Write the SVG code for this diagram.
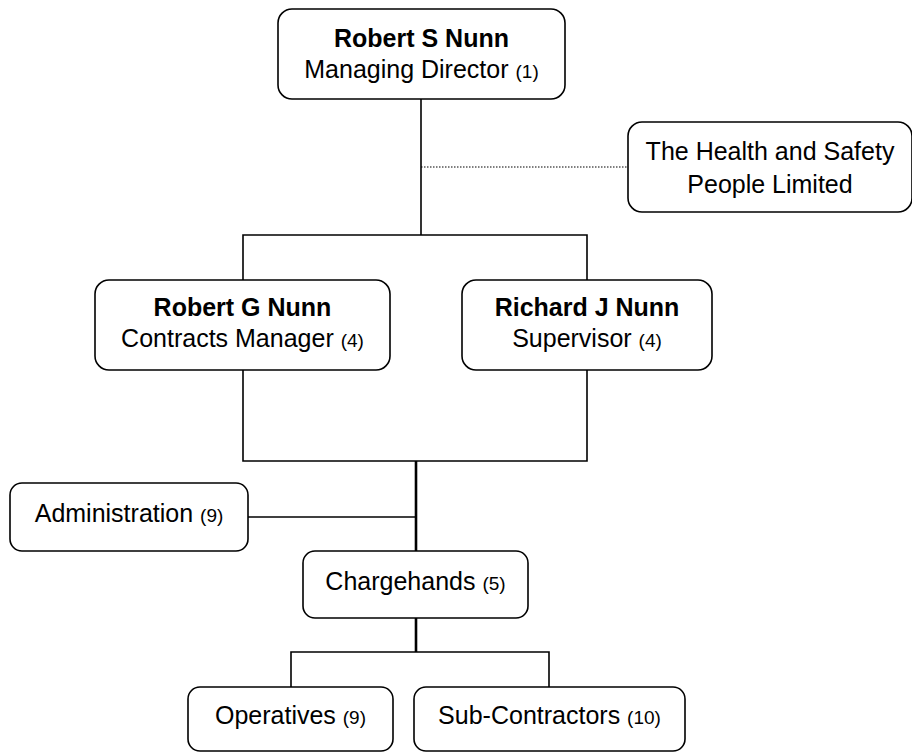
<svg xmlns="http://www.w3.org/2000/svg" width="912" height="753" viewBox="0 0 912 753">
<style>
.box{fill:#fff;stroke:#000;stroke-width:1.6}
.t{font-family:"Liberation Sans",Arial,sans-serif;font-size:25px;fill:#000;text-anchor:middle}
.b{font-weight:bold}
.s{font-size:19px}
.ln{fill:none;stroke:#000;stroke-width:1.6}
.thick{fill:none;stroke:#000;stroke-width:2.6}
.dot{fill:none;stroke:#000;stroke-width:1.2;stroke-dasharray:1.5 1.5}
</style>
<rect width="912" height="753" fill="#fff"/>
<g id="connectors">
<line class="ln" x1="421" y1="99" x2="421" y2="235"/>
<line class="dot" x1="421" y1="167" x2="628" y2="167"/>
<polyline class="ln" points="243,280 243,235 587,235 587,280"/>
<polyline class="ln" points="243,370 243,461 587,461 587,370"/>
<line class="thick" x1="416" y1="461" x2="416" y2="551"/>
<line class="ln" x1="248" y1="517" x2="416" y2="517"/>
<line class="thick" x1="416" y1="618" x2="416" y2="652"/>
<polyline class="ln" points="291,687 291,652 549,652 549,687"/>
</g>
<g id="managing-director">
<rect class="box" x="278" y="9" width="287" height="90" rx="14"/>
<text class="t b" x="421.5" y="47">Robert S Nunn</text>
<text class="t" x="421.5" y="78">Managing Director <tspan class="s">(1)</tspan></text>
</g>
<g id="health-safety">
<rect class="box" x="628" y="122" width="284" height="90" rx="14"/>
<text class="t" x="770" y="160">The Health and Safety</text>
<text class="t" x="770" y="193">People Limited</text>
</g>
<g id="contracts-manager">
<rect class="box" x="95" y="280" width="295" height="90" rx="14"/>
<text class="t b" x="242.5" y="316">Robert G Nunn</text>
<text class="t" x="242.5" y="347">Contracts Manager <tspan class="s">(4)</tspan></text>
</g>
<g id="supervisor">
<rect class="box" x="462" y="280" width="250" height="90" rx="14"/>
<text class="t b" x="587" y="316">Richard J Nunn</text>
<text class="t" x="587" y="347">Supervisor <tspan class="s">(4)</tspan></text>
</g>
<g id="administration">
<rect class="box" x="10" y="483" width="238" height="68" rx="12"/>
<text class="t" x="129" y="522">Administration <tspan class="s">(9)</tspan></text>
</g>
<g id="chargehands">
<rect class="box" x="303" y="551" width="225" height="67" rx="12"/>
<text class="t" x="415.5" y="590">Chargehands <tspan class="s">(5)</tspan></text>
</g>
<g id="operatives">
<rect class="box" x="188" y="687" width="205" height="64" rx="12"/>
<text class="t" x="290.5" y="724">Operatives <tspan class="s">(9)</tspan></text>
</g>
<g id="sub-contractors">
<rect class="box" x="414" y="687" width="271" height="64" rx="12"/>
<text class="t" x="549.5" y="724">Sub-Contractors <tspan class="s">(10)</tspan></text>
</g>
</svg>
